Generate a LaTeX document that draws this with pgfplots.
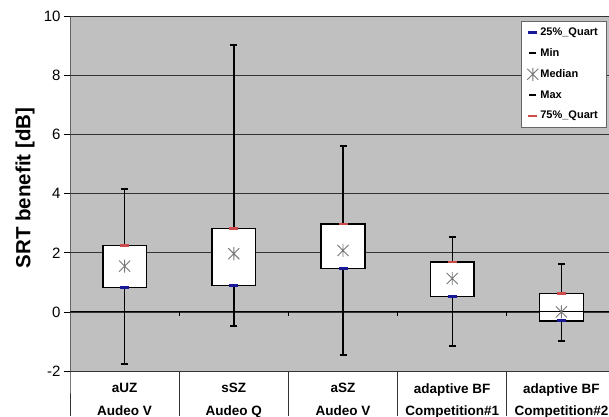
\documentclass[border=0pt]{standalone}
\usepackage{fontspec}
\setmainfont{Liberation Sans}
\usepackage{pgfplots}
\pgfplotsset{compat=1.18}
\usepgfplotslibrary{statistics}
\definecolor{plotgray}{RGB}{192,192,192}
\definecolor{qblue}{RGB}{25,25,150}
\definecolor{qred}{RGB}{205,75,75}
\definecolor{medgray}{RGB}{120,120,120}
\pgfdeclareplotmark{xstar}{%
  \pgfpathmoveto{\pgfqpoint{-0.85\pgfplotmarksize}{-0.85\pgfplotmarksize}}%
  \pgfpathlineto{\pgfqpoint{0.85\pgfplotmarksize}{0.85\pgfplotmarksize}}%
  \pgfpathmoveto{\pgfqpoint{-0.85\pgfplotmarksize}{0.85\pgfplotmarksize}}%
  \pgfpathlineto{\pgfqpoint{0.85\pgfplotmarksize}{-0.85\pgfplotmarksize}}%
  \pgfpathmoveto{\pgfqpoint{0pt}{-\pgfplotmarksize}}%
  \pgfpathlineto{\pgfqpoint{0pt}{\pgfplotmarksize}}%
  \pgfusepathqstroke}
\pgfplotsset{only mark legend/.style={legend image code/.code={\draw[mark repeat=2,mark phase=2,##1] plot coordinates {(0pt,0pt)(5pt,0pt)(10pt,0pt)};}}}
\pgfplotsset{bxstyle/.style={boxplot/draw direction=y, boxplot/box extend=0.4, boxplot/whisker extend=0, boxplot/every box/.style={draw=black, line width=1.5pt, fill=white}, boxplot/every whisker/.style={black, line width=1.4pt}, boxplot/every median/.style={draw=none}}}
\begin{document}
\begin{tikzpicture}[x=1pt,y=1pt]
\useasboundingbox (0,0) rectangle (609,416);
\begin{axis}[
  at={(70pt,45pt)}, anchor=south west,
  scale only axis, width=539pt, height=354.6pt,
  xmin=-0.5, xmax=4.4359, ymin=-2, ymax=10,
  clip=false,
  axis background/.style={fill=plotgray},
  axis line style={draw=none},
  ytick={-2,0,...,10}, ytick pos=left,
  yticklabel={\fontsize{15}{15}\selectfont\pgfmathprintnumber{\tick}},
  /pgf/number format/assume math mode=true,
  ymajorgrids, grid style={black!80, line width=0.8pt},
  tick align=outside, major tick length=6pt,
  ytick style={black, line width=0.8pt},
  xtick={0,...,4}, xtick style={draw=none}, xtick pos=bottom,
  xticklabels={{aUZ\\Audeo V},{sSZ\\Audeo Q},{aSZ\\Audeo V},{adaptive BF\\Competition\#1},{adaptive BF\\Competition\#2}},
  xticklabel style={align=center, font=\fontsize{13.5}{22.5}\bfseries, anchor=north, yshift=-3pt},
  ylabel={SRT benefit [dB]},
  ylabel style={font=\fontsize{20.5}{24}\selectfont\bfseries, at={(axis description cs:-0.0835,0.516)}, anchor=center},
  legend style={at={(1,1)}, anchor=north east, xshift=-3pt, yshift=-4.6pt, draw=black!60, fill=white,
    font=\fontsize{11}{12}\bfseries\selectfont, row sep=7.6pt, inner ysep=4.5pt, inner xsep=6pt},
  legend cell align=left,
]
% whiskers and boxes
\addplot[forget plot, bxstyle, boxplot prepared={draw position=0, lower whisker=-1.77, lower quartile=0.82, median=1.55, upper quartile=2.25, upper whisker=4.15}] coordinates {};
\addplot[forget plot, bxstyle, boxplot prepared={draw position=1, lower whisker=-0.48, lower quartile=0.89, median=1.97, upper quartile=2.82, upper whisker=9.04}] coordinates {};
\addplot[forget plot, bxstyle, boxplot prepared={draw position=2, lower whisker=-1.45, lower quartile=1.47, median=2.08, upper quartile=2.97, upper whisker=5.63}] coordinates {};
\addplot[forget plot, bxstyle, boxplot prepared={draw position=3, lower whisker=-1.17, lower quartile=0.52, median=1.13, upper quartile=1.69, upper whisker=2.52}] coordinates {};
\addplot[forget plot, bxstyle, boxplot prepared={draw position=4, lower whisker=-0.98, lower quartile=-0.30, median=0.0, upper quartile=0.63, upper whisker=1.62}] coordinates {};
% zero line
\draw[black, line width=0.9pt] (axis cs:-0.5,0) -- (axis cs:4.4359,0);
\pgfplotsinvokeforeach{0.5,1.5,2.5,3.5}{\draw[black, line width=0.9pt] (axis cs:#1,0) -- ++(0pt,-4pt);}
% left axis line and category separators
\draw[black!80, line width=1pt] (axis cs:-0.5,10) -- (axis cs:-0.5,-2) -- ++(0pt,-45pt);
\pgfplotsinvokeforeach{0.5,1.5,2.5,3.5}{\draw[black!80, line width=1.2pt] (axis cs:#1,-2) -- ++(0pt,-45pt);}
% marker series
\addplot[only marks, mark=-, mark size=4.5pt, color=qblue, mark options={line width=2.6pt}] coordinates {(0,0.82)(1,0.89)(2,1.47)(3,0.52)(4,-0.30)};
\addlegendentry{25\%\_Quart}
\addplot[only marks, mark=-, mark size=3.5pt, color=black, mark options={line width=2pt}] coordinates {(0,-1.77)(1,-0.48)(2,-1.45)(3,-1.17)(4,-0.98)};
\addlegendentry{Min}
\addplot[only marks, mark=xstar, mark size=6.5pt, color=medgray, mark options={line width=0.9pt}] coordinates {(0,1.55)(1,1.97)(2,2.08)(3,1.13)(4,0.0)};
\addlegendentry{Median}
\addplot[only marks, mark=-, mark size=3.5pt, color=black, mark options={line width=2pt}] coordinates {(0,4.15)(1,9.04)(2,5.63)(3,2.52)(4,1.62)};
\addlegendentry{Max}
\addplot[only marks, mark=-, mark size=4.5pt, color=qred, mark options={line width=2.6pt}] coordinates {(0,2.25)(1,2.82)(2,2.97)(3,1.69)(4,0.63)};
\addlegendentry{75\%\_Quart}
\end{axis}
\end{tikzpicture}
\end{document}
